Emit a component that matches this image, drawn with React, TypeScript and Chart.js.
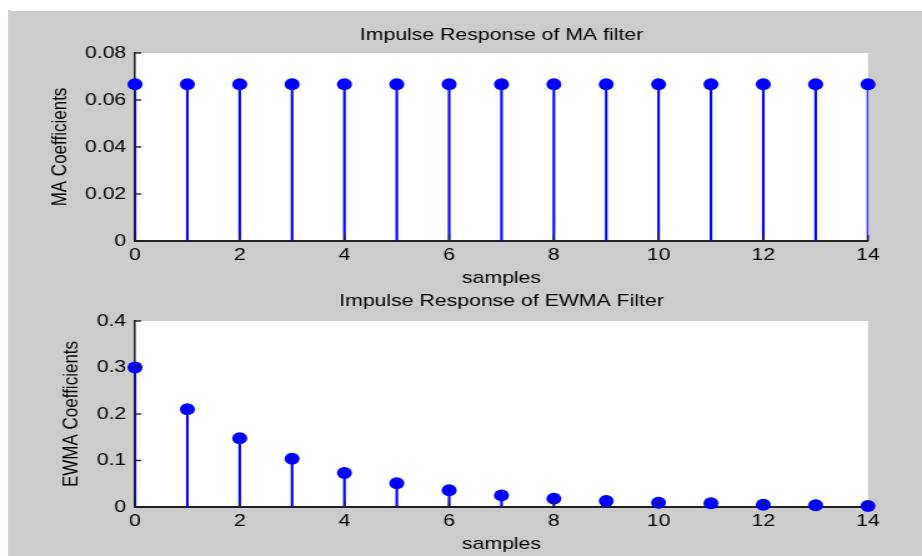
import React, { useEffect, useRef } from "react";
import { Chart, registerables } from "chart.js";

Chart.register(...registerables);

// ---- data ----
const samples = [0, 1, 2, 3, 4, 5, 6, 7, 8, 9, 10, 11, 12, 13, 14];
const maCoefficients = [
  0.0667, 0.0667, 0.0667, 0.0667, 0.0667, 0.0667, 0.0667, 0.0667,
  0.0667, 0.0667, 0.0667, 0.0667, 0.0667, 0.0667, 0.0667,
];
const ewmaCoefficients = [
  0.3, 0.21, 0.148, 0.104, 0.073, 0.051, 0.036, 0.025, 0.018, 0.013, 0.009,
  0.008, 0.005, 0.004, 0.002,
];
const xTickValues = [0, 2, 4, 6, 8, 10, 12, 14];
const maYTicks = [0, 0.02, 0.04, 0.06, 0.08];
const ewmaYTicks = [0, 0.1, 0.2, 0.3, 0.4];

const maTitle = "Impulse Response of MA filter";
const ewmaTitle = "Impulse Response of EWMA Filter";
const maYLabel = "MA Coefficients";
const ewmaYLabel = "EWMA Coefficients";
const xLabel = "samples";

// ---- geometry (page is stretched horizontally) ----
const PAGE_W = 922;
const VIRT_W = 738;
const S = PAGE_W / VIRT_W;
const FONT = "'Liberation Sans', Arial, Helvetica, sans-serif";
const AXIS_COLOR = "#222";
const STEM_COLOR = "#0000ff";

const whiteArea = {
  id: "whiteArea",
  beforeDraw(chart: any) {
    const { ctx, chartArea } = chart;
    ctx.save();
    ctx.fillStyle = "#ffffff";
    ctx.fillRect(chartArea.left, chartArea.top, chartArea.width, chartArea.height);
    ctx.restore();
  },
};

const inwardTicks = {
  id: "inwardTicks",
  afterDraw(chart: any) {
    const { ctx, chartArea, scales } = chart;
    ctx.save();
    ctx.strokeStyle = AXIS_COLOR;
    ctx.lineWidth = 1.4;
    const ys = scales.y;
    ys.ticks.forEach((t: any) => {
      const y = ys.getPixelForValue(t.value);
      ctx.beginPath();
      ctx.moveTo(chartArea.left, y);
      ctx.lineTo(chartArea.left + 5, y);
      ctx.stroke();
    });
    const xs = scales.x;
    xs.ticks.forEach((t: any) => {
      const x = xs.getPixelForValue(t.value);
      ctx.beginPath();
      ctx.moveTo(x, chartArea.bottom);
      ctx.lineTo(x, chartArea.bottom - 6);
      ctx.stroke();
    });
    ctx.restore();
  },
};

function makeConfig(opts: {
  values: number[];
  yTicks: number[];
  title: string;
  yLabel: string;
  titleTop: number;
  titleBottom: number;
  xAxisH: number;
  xTitleBottom: number;
  yTitlePad: number;
}): any {
  const pts = samples.map((s, i) => ({ x: s, y: opts.values[i] }));
  const yMax = opts.yTicks[opts.yTicks.length - 1];
  const font = { family: FONT, size: 17 };
  return {
    type: "bar",
    data: {
      datasets: [
        {
          type: "bar",
          data: pts,
          backgroundColor: STEM_COLOR,
          borderWidth: 0,
          barThickness: 1.45,
        },
        {
          type: "scatter",
          data: pts,
          backgroundColor: STEM_COLOR,
          borderColor: STEM_COLOR,
          borderWidth: 0,
          pointRadius: 6,
          pointHoverRadius: 6,
          clip: false,
        },
      ],
    },
    options: {
      animation: false,
      responsive: false,
      devicePixelRatio: 1,
      events: [],
      layout: {
        padding: { left: 0, right: VIRT_W - 868 / S, top: 0, bottom: 0 },
      },
      plugins: {
        legend: { display: false },
        tooltip: { enabled: false },
        title: {
          display: true,
          fullSize: false,
          text: opts.title,
          color: "#000",
          font: { family: FONT, size: 17, weight: "normal" },
          padding: { top: opts.titleTop, bottom: opts.titleBottom },
        },
      },
      scales: {
        x: {
          type: "linear",
          min: 0,
          max: 14,
          offset: false,
          afterBuildTicks: (scale: any) => {
            scale.ticks = xTickValues.map((v) => ({ value: v }));
          },
          afterFit: (scale: any) => {
            scale.height = opts.xAxisH;
          },
          grid: { display: true, drawOnChartArea: false, drawTicks: false },
          border: { display: true, color: AXIS_COLOR, width: 2 },
          ticks: {
            color: "#000",
            font,
            padding: 4,
            maxRotation: 0,
            autoSkip: false,
            callback: (v: any) => String(v),
          },
          title: {
            display: true,
            text: xLabel,
            color: "#000",
            font,
            padding: { top: 0, bottom: opts.xTitleBottom },
          },
        },
        y: {
          type: "linear",
          min: 0,
          max: yMax,
          afterBuildTicks: (scale: any) => {
            scale.ticks = opts.yTicks.map((v) => ({ value: v }));
          },
          afterFit: (scale: any) => {
            scale.width = 135 / S;
          },
          grid: { display: true, drawOnChartArea: false, drawTicks: false },
          border: { display: true, color: AXIS_COLOR, width: 1.6 },
          ticks: {
            color: "#000",
            font,
            padding: 7,
            autoSkip: false,
            callback: (v: any) => String(v),
          },
          title: {
            display: true,
            text: opts.yLabel,
            color: "#000",
            font,
            padding: { top: opts.yTitlePad, bottom: 0 },
          },
        },
      },
    },
    plugins: [whiteArea, inwardTicks],
  };
}

export default function App() {
  const ref1 = useRef<HTMLCanvasElement | null>(null);
  const ref2 = useRef<HTMLCanvasElement | null>(null);

  useEffect(() => {
    document.body.style.margin = "0";
    const c1 = new Chart(
      ref1.current as HTMLCanvasElement,
      makeConfig({
        values: maCoefficients,
        yTicks: maYTicks,
        title: maTitle,
        yLabel: maYLabel,
        titleTop: 25,
        titleBottom: 53 - 25 - 20.4,
        xAxisH: 290 - 241,
        xTitleBottom: 1,
        yTitlePad: 60 / S - 10.2,
      })
    );
    const c2 = new Chart(
      ref2.current as HTMLCanvasElement,
      makeConfig({
        values: ewmaCoefficients,
        yTicks: ewmaYTicks,
        title: ewmaTitle,
        yLabel: ewmaYLabel,
        titleTop: 1,
        titleBottom: 31 - 1 - 20.4,
        xAxisH: 266 - 217,
        xTitleBottom: 1,
        yTitlePad: 71 / S - 10.2,
      })
    );
    return () => {
      c1.destroy();
      c2.destroy();
    };
  }, []);

  return (
    <div
      style={{
        position: "relative",
        width: PAGE_W,
        height: 556,
        background: "#ffffff",
        overflow: "hidden",
      }}
    >
      <div
        style={{
          position: "absolute",
          left: 8,
          top: 11,
          right: 0,
          bottom: 0,
          background: "#cccccc",
        }}
      />
      <div
        style={{
          position: "absolute",
          left: 8,
          top: 10,
          width: 3,
          bottom: 0,
          background: "#d4d0c8",
        }}
      />
      <canvas
        ref={ref1}
        width={VIRT_W}
        height={290}
        style={{ position: "absolute", left: 0, top: 0, width: PAGE_W + "px", height: "290px" }}
      />
      <canvas
        ref={ref2}
        width={VIRT_W}
        height={266}
        style={{ position: "absolute", left: 0, top: 290, width: PAGE_W + "px", height: "266px" }}
      />
    </div>
  );
}
